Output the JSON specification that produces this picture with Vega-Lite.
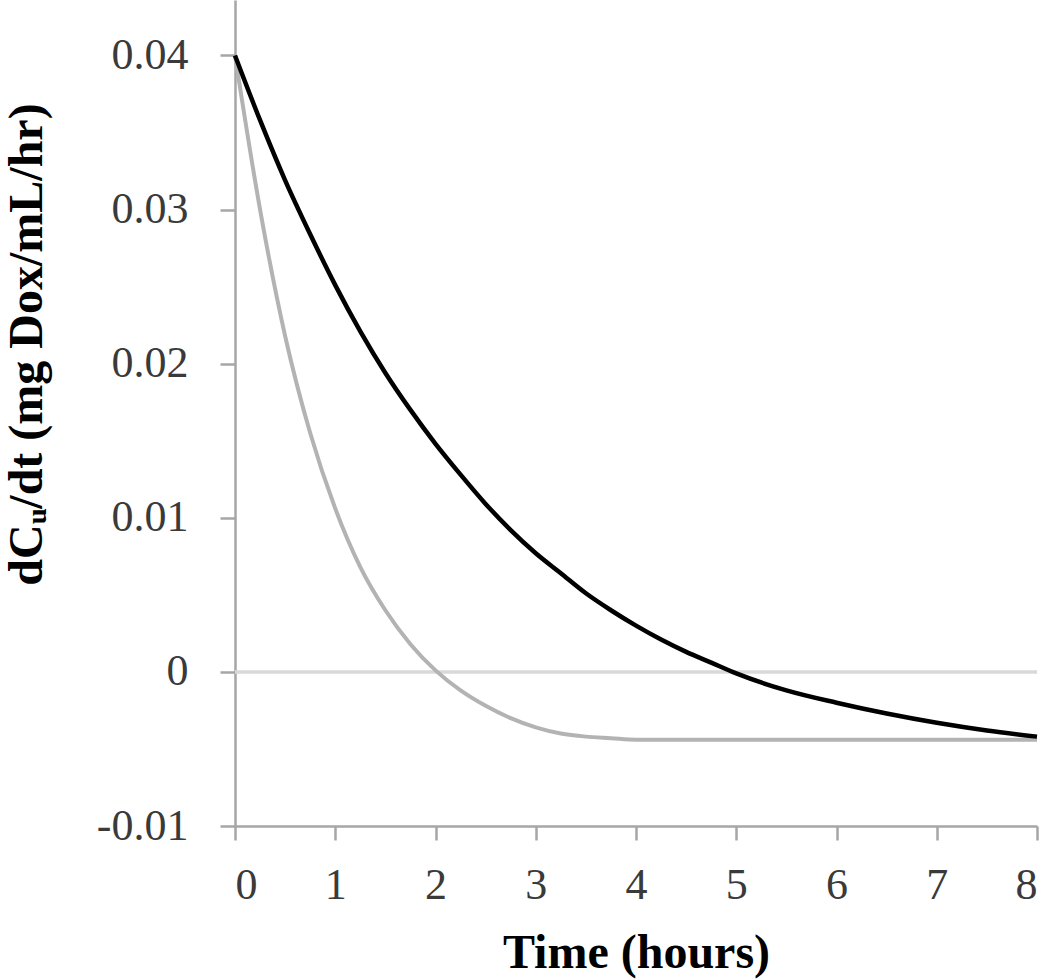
{
  "$schema": "https://vega.github.io/schema/vega-lite/v6.json",
  "width": 802,
  "height": 826,
  "autosize": "none",
  "padding": {"left": 235, "top": 0, "right": 13, "bottom": 153},
  "background": "white",
  "config": {"view": {"stroke": null}, "font": "Liberation Serif"},
  "datasets": {
    "curves": [
      {"series": "gray", "t": 0, "v": 0.0400},
      {"series": "gray", "t": 0.25, "v": 0.0300},
      {"series": "gray", "t": 0.5, "v": 0.0218},
      {"series": "gray", "t": 0.75, "v": 0.0155},
      {"series": "gray", "t": 1.0, "v": 0.0106},
      {"series": "gray", "t": 1.25, "v": 0.0068},
      {"series": "gray", "t": 1.5, "v": 0.0040},
      {"series": "gray", "t": 1.75, "v": 0.0018},
      {"series": "gray", "t": 2.0, "v": 0.0001},
      {"series": "gray", "t": 2.25, "v": -0.0012},
      {"series": "gray", "t": 2.5, "v": -0.0022},
      {"series": "gray", "t": 2.75, "v": -0.0030},
      {"series": "gray", "t": 3.0, "v": -0.0036},
      {"series": "gray", "t": 3.25, "v": -0.0040},
      {"series": "gray", "t": 3.5, "v": -0.0042},
      {"series": "gray", "t": 3.75, "v": -0.0043},
      {"series": "gray", "t": 4, "v": -0.0044},
      {"series": "gray", "t": 5, "v": -0.0044},
      {"series": "gray", "t": 6, "v": -0.0044},
      {"series": "gray", "t": 7, "v": -0.0044},
      {"series": "gray", "t": 8, "v": -0.0044},
      {"series": "black", "t": 0, "v": 0.0400},
      {"series": "black", "t": 0.25, "v": 0.0358},
      {"series": "black", "t": 0.5, "v": 0.0319},
      {"series": "black", "t": 0.75, "v": 0.0284},
      {"series": "black", "t": 1.0, "v": 0.0251},
      {"series": "black", "t": 1.25, "v": 0.0221},
      {"series": "black", "t": 1.5, "v": 0.0194},
      {"series": "black", "t": 1.75, "v": 0.0170},
      {"series": "black", "t": 2.0, "v": 0.0148},
      {"series": "black", "t": 2.25, "v": 0.0128},
      {"series": "black", "t": 2.5, "v": 0.0109},
      {"series": "black", "t": 2.75, "v": 0.0092},
      {"series": "black", "t": 3.0, "v": 0.0077},
      {"series": "black", "t": 3.25, "v": 0.0064},
      {"series": "black", "t": 3.5, "v": 0.0051},
      {"series": "black", "t": 3.75, "v": 0.0040},
      {"series": "black", "t": 4.0, "v": 0.0030},
      {"series": "black", "t": 4.25, "v": 0.0021},
      {"series": "black", "t": 4.5, "v": 0.0013},
      {"series": "black", "t": 4.75, "v": 0.0006},
      {"series": "black", "t": 5.0, "v": -0.0001},
      {"series": "black", "t": 5.5, "v": -0.0012},
      {"series": "black", "t": 6.0, "v": -0.0020},
      {"series": "black", "t": 6.5, "v": -0.0027},
      {"series": "black", "t": 7.0, "v": -0.0033},
      {"series": "black", "t": 7.5, "v": -0.0038},
      {"series": "black", "t": 8.0, "v": -0.0042}
    ],
    "zero": [{"z": 0}]
  },
  "layer": [
    {
      "data": {"name": "zero"},
      "mark": {"type": "rule", "color": "#d9d9d9", "strokeWidth": 3.5},
      "encoding": {
        "y": {
          "field": "z", "type": "quantitative",
          "scale": {"domain": [-0.01, 0.0436], "nice": false, "zero": false},
          "axis": {
            "values": [-0.01, 0, 0.01, 0.02, 0.03, 0.04],
            "labelExpr": "datum.value < 0 ? '-' + format(-datum.value, '~g') : format(datum.value, '~g')",
            "grid": false,
            "domainColor": "#a6a6a6", "domainWidth": 2.5,
            "tickColor": "#a6a6a6", "tickWidth": 2.5, "tickSize": 15,
            "labelFont": "Liberation Serif", "labelFontSize": 44, "labelColor": "#3a3a3a",
            "labelPadding": 32, "labelBaseline": "middle",
            "title": "dCᵤ/dt (mg Dox/mL/hr)",
            "titleFont": "Liberation Serif", "titleFontSize": 48, "titleFontWeight": "bold", "titleColor": "#000000",
            "titleAngle": 270, "titleBaseline": "alphabetic", "titleAlign": "center",
            "titleX": -194, "titleY": 344
          }
        }
      }
    },
    {
      "data": {"name": "curves"},
      "transform": [{"filter": "datum.series === 'gray'"}],
      "mark": {"type": "line", "interpolate": "monotone", "color": "#b3b3b3", "strokeWidth": 4},
      "encoding": {
        "x": {
          "field": "t", "type": "quantitative",
          "scale": {"domain": [0, 8], "nice": false},
          "axis": {
            "values": [0, 1, 2, 3, 4, 5, 6, 7, 8],
            "format": "d",
            "grid": false,
            "domainColor": "#a6a6a6", "domainWidth": 2.5,
            "tickColor": "#a6a6a6", "tickWidth": 2.5, "tickSize": 14,
            "labelFont": "Liberation Serif", "labelFontSize": 44, "labelColor": "#3a3a3a",
            "labelBaseline": "alphabetic", "labelPadding": 58,
            "title": "Time (hours)",
            "titleFont": "Liberation Serif", "titleFontSize": 48, "titleFontWeight": "bold", "titleColor": "#000000",
            "titleBaseline": "alphabetic", "titleY": 141, "titleX": 401, "titleAlign": "center"
          }
        },
        "y": {"field": "v", "type": "quantitative"}
      }
    },
    {
      "data": {"name": "curves"},
      "transform": [{"filter": "datum.series === 'black'"}],
      "mark": {"type": "line", "interpolate": "monotone", "color": "#000000", "strokeWidth": 4.5},
      "encoding": {
        "x": {"field": "t", "type": "quantitative"},
        "y": {"field": "v", "type": "quantitative"}
      }
    }
  ]
}
